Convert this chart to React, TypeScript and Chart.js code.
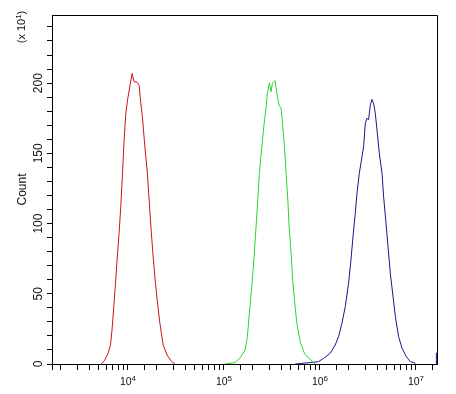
import React, { useEffect, useRef } from "react";
import { Chart, registerables } from "chart.js";

Chart.register(...registerables);

// Axis ranges (x is logarithmic, y in units of 10^1 counts)
const xMin = 1635;
const xMax = 16750000;
const yMax = 248.5;

// Tick labels
const yTickLabels = [0, 50, 100, 150, 200];
const xDecadeExponents = [4, 5, 6, 7];

// Red histogram
const redX = [5360, 5800, 6275, 6645, 6900, 7195, 7500, 7785, 8170, 8510, 8870, 9215, 9600, 10000, 10570, 11170, 11720, 12410, 13210, 13770, 14340, 15160, 16020, 16810, 17630, 18500, 19410, 20370, 21740, 23530, 25880, 28770, 31180];
const redY = [0, 2.8, 7.6, 13.5, 24.2, 40.8, 57.4, 74, 93, 112, 135.7, 159.4, 178.4, 187.9, 197.4, 206.9, 200.9, 201, 198.6, 185.5, 174.9, 154.7, 138, 116.7, 95.4, 76.4, 59.8, 45.6, 29, 13.5, 6.4, 1.7, 0];

// Green histogram
const greenX = [103700, 131800, 148700, 167700, 177200, 185900, 197000, 208200, 218400, 227500, 236400, 250400, 262800, 275700, 286600, 300600, 313200, 323200, 344800, 359200, 379600, 398400, 415000, 431200, 449200, 468000, 482800, 506600, 522700, 548200, 580800, 628900, 697000, 767700, 845300, 901600];
const greenY = [0, 1, 4.3, 10, 19.5, 36, 55, 76.4, 97.7, 116.7, 135.7, 154.7, 168.9, 180.8, 192.7, 200.2, 193.8, 200, 201.7, 192.7, 184.3, 182, 168.9, 154.7, 135.7, 116.7, 97.7, 78.8, 62.1, 45.6, 29, 15.9, 7.6, 4.3, 1.7, 0];

// Blue histogram (last two points: off-scale events piled at the top channel)
const blueX = [557700, 655200, 799800, 976300, 1101000, 1293000, 1458000, 1579000, 1713000, 1855000, 2008000, 2127000, 2232000, 2359000, 2457000, 2597000, 2771000, 2880000, 2999000, 3124000, 3247000, 3382000, 3524000, 3662000, 3815000, 3974000, 4200000, 4482000, 4656000, 4933000, 5176000, 5470000, 5838000, 6170000, 6677000, 7246000, 8035000, 8846000, 9977000, 13000000, 16500000, 16500000];
const blueY: (number | null)[] = [0, 0.5, 1, 1.7, 4, 7.6, 13.5, 19.4, 29, 40.8, 57.4, 74, 90.6, 107.3, 121.5, 135.7, 147.6, 154.7, 171.3, 175, 173.9, 184.3, 188.4, 185.5, 178.4, 166.5, 150, 135.7, 119, 100, 83.5, 64.5, 47.9, 33.7, 19.4, 11.2, 5.2, 1.7, 0.5, null, 0, 8];

const toPoints = (xs: number[], ys: (number | null)[]) => xs.map((x, i) => ({ x, y: ys[i] }));

const FONT = '"Liberation Sans", Arial, sans-serif';

const labelsPlugin = {
  id: "customLabels",
  afterDraw(chart: any) {
    const { ctx, chartArea, scales } = chart;
    const xs = scales.x;
    const ys = scales.y;
    ctx.save();
    // frame: top and right
    ctx.strokeStyle = "#000";
    ctx.lineWidth = 1;
    ctx.beginPath();
    ctx.moveTo(chartArea.left, chartArea.top + 0.5);
    ctx.lineTo(chartArea.right + 0.5, chartArea.top + 0.5);
    ctx.lineTo(chartArea.right + 0.5, chartArea.bottom);
    ctx.stroke();

    ctx.fillStyle = "#111";
    // y tick labels (rotated)
    ctx.font = `12px ${FONT}`;
    ctx.textAlign = "center";
    ctx.textBaseline = "alphabetic";
    for (const v of yTickLabels) {
      const y = ys.getPixelForValue(v);
      ctx.save();
      ctx.translate(41.5, y);
      ctx.rotate(-Math.PI / 2);
      ctx.fillText(String(v), 0, 0);
      ctx.restore();
    }
    // Count
    ctx.save();
    ctx.translate(25.5, (chartArea.top + chartArea.bottom) / 2);
    ctx.rotate(-Math.PI / 2);
    ctx.fillText("Count", 0, 0);
    ctx.restore();

    // (x 10^1)
    ctx.save();
    ctx.translate(25, 27);
    ctx.rotate(-Math.PI / 2);
    ctx.textAlign = "left";
    const mainFont = `11px ${FONT}`;
    const supFont = `8px ${FONT}`;
    ctx.font = mainFont;
    const a = "(x 10";
    const wa = ctx.measureText(a).width;
    ctx.font = supFont;
    const wb = ctx.measureText("1").width;
    ctx.font = mainFont;
    const wc = ctx.measureText(")").width;
    let sx = -(wa + wb + wc) / 2;
    ctx.fillText(a, sx, 0);
    sx += wa;
    ctx.font = supFont;
    ctx.fillText("1", sx, -4);
    sx += wb;
    ctx.font = mainFont;
    ctx.fillText(")", sx, 0);
    ctx.restore();

    // x tick labels 10^k
    ctx.textAlign = "left";
    for (const k of xDecadeExponents) {
      const x = xs.getPixelForValue(Math.pow(10, k));
      ctx.font = `10.5px ${FONT}`;
      const w1 = ctx.measureText("10").width;
      ctx.font = `8px ${FONT}`;
      const w2 = ctx.measureText(String(k)).width;
      const start = x - (w1 + w2) / 2 + 0.5;
      ctx.font = `10.5px ${FONT}`;
      ctx.fillText("10", start, 385);
      ctx.font = `8px ${FONT}`;
      ctx.fillText(String(k), start + w1, 381);
    }
    ctx.restore();
  },
};

export default function App() {
  const ref = useRef<HTMLCanvasElement | null>(null);
  useEffect(() => {
    if (!ref.current) return;
    const chart = new Chart(ref.current, {
      type: "line",
      data: {
        datasets: [
          { data: toPoints(redX, redY), borderColor: "#c8141e", borderWidth: 1, pointRadius: 0, tension: 0 },
          { data: toPoints(greenX, greenY), borderColor: "#2ed12e", borderWidth: 1, pointRadius: 0, tension: 0 },
          { data: toPoints(blueX, blueY), borderColor: "#16168f", borderWidth: 1, pointRadius: 0, tension: 0, spanGaps: false },
        ],
      },
      options: {
        responsive: false,
        animation: false,
        layout: { padding: { left: 0, right: 19, top: 15, bottom: 0 } },
        plugins: { legend: { display: false }, tooltip: { enabled: false } },
        scales: {
          x: {
            type: "logarithmic",
            min: xMin,
            max: xMax,
            afterFit: (s: any) => { s.height = 30; },
            ticks: { display: false },
            grid: {
              drawOnChartArea: false,
              drawTicks: true,
              tickLength: 6,
              color: (c: any) => (c.tick && c.tick.value >= xMax ? "rgba(0,0,0,0)" : "#000"),
            },
            border: { display: true, color: "#000", width: 1 },
          },
          y: {
            type: "linear",
            min: 0,
            max: yMax,
            afterFit: (s: any) => { s.width = 52; },
            ticks: { display: false, stepSize: 10, includeBounds: false },
            grid: { drawOnChartArea: false, drawTicks: true, tickLength: 5, color: "#000" },
            border: { display: true, color: "#000", width: 1 },
          },
        },
      },
      plugins: [labelsPlugin],
    } as any);
    return () => chart.destroy();
  }, []);
  return (
    <div style={{ position: "absolute", left: 0, top: 0, width: 456, height: 394, background: "#fff" }}>
      <canvas ref={ref} width={456} height={394} style={{ display: "block" }} />
    </div>
  );
}
